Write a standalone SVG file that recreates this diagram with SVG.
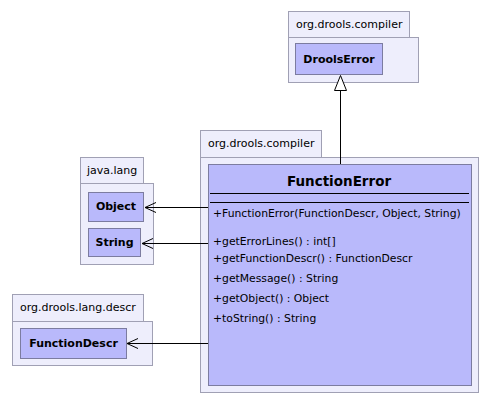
<svg xmlns="http://www.w3.org/2000/svg" width="491" height="404" viewBox="0 0 491 404">
<style>
.pkg{fill:#eeeefc;stroke:#a0a0b4;stroke-width:1}
.cls{fill:#b9b9fb;stroke:#7c7ca0;stroke-width:1}
.plabel{font-family:"DejaVu Sans",sans-serif;font-size:11px;fill:#000}
.cname{font-family:"DejaVu Sans",sans-serif;font-size:11px;font-weight:bold;fill:#000;text-anchor:middle}
.title{font-family:"DejaVu Sans",sans-serif;font-size:13.5px;font-weight:bold;fill:#000;text-anchor:middle}
.m{font-family:"DejaVu Sans",sans-serif;font-size:10.8px;fill:#000}
.conn{stroke:#000;stroke-width:1;fill:none}
</style>
<rect width="491" height="404" fill="#ffffff"/>
<g id="pkg-compiler-top">
<rect class="pkg" x="288.5" y="11.5" width="121" height="26"/>
<rect class="pkg" x="288.5" y="37.5" width="130" height="45"/>
<text class="plabel" x="296" y="28">org.drools.compiler</text>
</g>
<g id="DroolsError">
<rect class="cls" x="295.5" y="43.5" width="87" height="31"/>
<text class="cname" x="339" y="63">DroolsError</text>
</g>
<g id="pkg-compiler">
<rect class="pkg" x="200.5" y="130.5" width="121" height="27"/>
<rect class="pkg" x="200.5" y="157.5" width="278" height="235"/>
<text class="plabel" x="208" y="147">org.drools.compiler</text>
</g>
<g id="FunctionError">
<rect class="cls" x="208.5" y="164.5" width="263" height="221"/>
<text class="title" x="339" y="186">FunctionError</text>
<line x1="210" y1="193.5" x2="469" y2="193.5" stroke="#000"/>
<line x1="210" y1="202.5" x2="469" y2="202.5" stroke="#000"/>
<text class="m" x="213" y="217">+FunctionError(FunctionDescr, Object, String)</text>
<text class="m" x="213" y="245">+getErrorLines() : int[]</text>
<text class="m" x="213" y="262">+getFunctionDescr() : FunctionDescr</text>
<text class="m" x="213" y="282">+getMessage() : String</text>
<text class="m" x="213" y="302">+getObject() : Object</text>
<text class="m" x="213" y="322">+toString() : String</text>
</g>
<g id="pkg-java-lang">
<rect class="pkg" x="80.5" y="157.5" width="63" height="26"/>
<rect class="pkg" x="80.5" y="183.5" width="73" height="81"/>
<text class="plabel" x="87" y="174">java.lang</text>
</g>
<g id="Object">
<rect class="cls" x="88.5" y="192.5" width="55" height="29"/>
<text class="cname" x="116" y="210">Object</text>
</g>
<g id="String">
<rect class="cls" x="88.5" y="228.5" width="52" height="28"/>
<text class="cname" x="114.5" y="246">String</text>
</g>
<g id="pkg-lang-descr">
<rect class="pkg" x="12.5" y="294.5" width="131" height="27"/>
<rect class="pkg" x="12.5" y="321.5" width="140" height="44"/>
<text class="plabel" x="20" y="311">org.drools.lang.descr</text>
</g>
<g id="FunctionDescr">
<rect class="cls" x="20.5" y="328.5" width="106" height="30"/>
<text class="cname" x="73.5" y="347">FunctionDescr</text>
</g>
<g id="connectors">
<line class="conn" x1="340.5" y1="164" x2="340.5" y2="90"/>
<polygon points="340.5,75.5 334.5,90.5 346.5,90.5" fill="#ffffff" stroke="#000"/>
<line class="conn" x1="208" y1="207.5" x2="145" y2="207.5"/>
<polyline class="conn" points="156,202.5 145,207.5 156,212.5"/>
<line class="conn" x1="208" y1="243.5" x2="142" y2="243.5"/>
<polyline class="conn" points="153,238.5 142,243.5 153,248.5"/>
<line class="conn" x1="208" y1="343.5" x2="127" y2="343.5"/>
<polyline class="conn" points="138,338.5 127,343.5 138,348.5"/>
</g>
</svg>
